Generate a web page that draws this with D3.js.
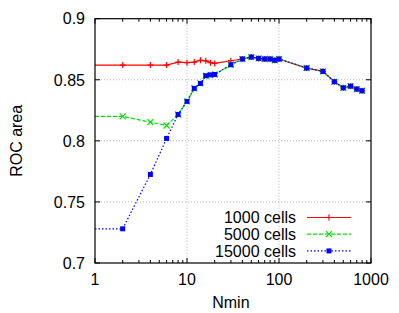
<!DOCTYPE html>
<html>
<head>
<meta charset="utf-8">
<script src="https://cdn.jsdelivr.net/npm/d3@7"></script>
<style>
	body { margin: 0; background: #fff; }
	text { font-family: "Liberation Sans", Arial, sans-serif; }
</style>
</head>
<body>
<script>
// values
const nmin = [1, 2, 4, 6, 8, 10, 12, 14, 16, 18, 20, 30, 40, 50, 60, 70, 80, 90, 100, 200, 300, 400, 500, 600, 700, 800];
const roc1000 = [0.862, 0.862, 0.862, 0.862, 0.8645, 0.864, 0.8645, 0.866, 0.8655, 0.864, 0.8634, 0.8656, 0.867,
	0.8686, 0.8675, 0.867, 0.867, 0.866, 0.867, 0.8596, 0.8569, 0.8484, 0.8434, 0.8448, 0.8424, 0.841];
const roc5000 = [0.82, 0.82, 0.8153, 0.8126, 0.8216, 0.8323, 0.843, 0.847, 0.8533, 0.854, 0.8543, 0.8623, 0.867,
	0.8686, 0.8675, 0.867, 0.867, 0.866, 0.867, 0.8596, 0.8569, 0.8484, 0.8434, 0.8448, 0.8424, 0.841];
const roc15000 = [0.728, 0.728, 0.7725, 0.802, 0.8216, 0.8323, 0.843, 0.847, 0.8533, 0.854, 0.8543, 0.8623, 0.867,
	0.8686, 0.8675, 0.867, 0.867, 0.866, 0.867, 0.8596, 0.8569, 0.8484, 0.8434, 0.8448, 0.8424, 0.841];
const seriesNames = ['1000 cells', '5000 cells', '15000 cells'];
const xTicks = [1, 10, 100, 1000];
const yTicks = [0.7, 0.75, 0.8, 0.85, 0.9];

const W = 399, H = 313;
const pLeft = 95, pRight = 371, pTop = 18.7, pBottom = 263;

const svg = d3.select('body').append('svg')
	.attr('width', W)
	.attr('height', H);

const x = d3.scaleLog().domain([1, 1000]).range([pLeft, pRight]);
const y = d3.scaleLinear().domain([0.7, 0.9]).range([pBottom, pTop]);

// grid
const grid = svg.append('g')
	.attr('stroke', '#a0a0a0')
	.attr('stroke-width', 0.8)
	.attr('stroke-dasharray', '1,2');
grid.selectAll('.gx')
	.data([10, 100])
	.join('line')
		.attr('x1', d => x(d)).attr('x2', d => x(d))
		.attr('y1', pTop).attr('y2', pBottom);
grid.selectAll('.gy')
	.data([0.75, 0.8, 0.85])
	.join('line')
		.attr('x1', pLeft).attr('x2', pRight)
		.attr('y1', d => y(d)).attr('y2', d => y(d));

// ticks on all four sides, pointing inward
const minor = [];
for (let p = 1; p < 1000; p *= 10)
	for (let k = 2; k < 10; k++) minor.push(p * k);

const ticks = svg.append('g').attr('stroke', '#000').attr('stroke-width', 1);
[pBottom, pTop].forEach(edge => {
	const dir = edge === pBottom ? -1 : 1;
	ticks.append('g').selectAll('line')
		.data(xTicks)
		.join('line')
			.attr('x1', d => x(d)).attr('x2', d => x(d))
			.attr('y1', edge).attr('y2', edge + dir * 5);
	ticks.append('g').selectAll('line')
		.data(minor)
		.join('line')
			.attr('x1', d => x(d)).attr('x2', d => x(d))
			.attr('y1', edge).attr('y2', edge + dir * 3);
});
[pLeft, pRight].forEach(edge => {
	const dir = edge === pLeft ? 1 : -1;
	ticks.append('g').selectAll('line')
		.data(yTicks)
		.join('line')
			.attr('x1', edge).attr('x2', edge + dir * 5)
			.attr('y1', d => y(d)).attr('y2', d => y(d));
});

// tick labels
svg.append('g').selectAll('text')
	.data(xTicks)
	.join('text')
		.attr('x', d => x(d))
		.attr('y', 285)
		.attr('text-anchor', 'middle')
		.attr('font-size', 16)
		.text(d => d);
svg.append('g').selectAll('text')
	.data(yTicks)
	.join('text')
		.attr('x', 85)
		.attr('y', d => y(d))
		.attr('dy', '0.36em')
		.attr('text-anchor', 'end')
		.attr('font-size', 16)
		.text(d => d3.format('')(d));

svg.append('text')
	.attr('x', x(30))
	.attr('y', 308)
	.attr('text-anchor', 'middle')
	.attr('font-size', 16)
	.text('Nmin');
svg.append('text')
	.attr('transform', `translate(22, ${(pTop + pBottom) / 2}) rotate(-90)`)
	.attr('text-anchor', 'middle')
	.attr('font-size', 16)
	.text('ROC area');

// series
const series = [
	{ name: seriesNames[0], vals: roc1000, color: '#ff0000', dash: null, mark: 'plus' },
	{ name: seriesNames[1], vals: roc5000, color: '#00e000', dash: '4,2', mark: 'cross' },
	{ name: seriesNames[2], vals: roc15000, color: '#0000ff', dash: '1.5,2', mark: 'square' }
];

function marker(g, kind, cx, cy, color) {
	if (kind === 'square') {
		g.append('rect')
			.attr('x', cx - 2.5).attr('y', cy - 2.5)
			.attr('width', 5).attr('height', 5)
			.attr('fill', color);
	} else {
		const s = 3;
		const p = kind === 'plus'
			? `M${cx - s},${cy}H${cx + s}M${cx},${cy - s}V${cy + s}`
			: `M${cx - s},${cy - s}L${cx + s},${cy + s}M${cx - s},${cy + s}L${cx + s},${cy - s}`;
		g.append('path').attr('d', p).attr('stroke', color).attr('stroke-width', 1.2).attr('fill', 'none');
	}
}

const line = d3.line()
	.x(d => x(d[0]))
	.y(d => y(d[1]));

series.forEach(s => {
	const pts = nmin.map((n, i) => [n, s.vals[i]]);
	const g = svg.append('g');
	g.append('path')
		.attr('d', line(pts))
		.attr('fill', 'none')
		.attr('stroke', s.color)
		.attr('stroke-width', 1.2)
		.attr('stroke-dasharray', s.dash);
	pts.slice(1).forEach(p => marker(g, s.mark, x(p[0]), y(p[1]), s.color));
});

// legend
const legend = svg.append('g');
series.forEach((s, i) => {
	const ly = 217.5 + i * 16.7;
	legend.append('text')
		.attr('x', 296)
		.attr('y', ly)
		.attr('dy', '0.36em')
		.attr('text-anchor', 'end')
		.attr('font-size', 16)
		.text(s.name);
	legend.append('line')
		.attr('x1', 307).attr('x2', 351)
		.attr('y1', ly).attr('y2', ly)
		.attr('stroke', s.color)
		.attr('stroke-width', 1.2)
		.attr('stroke-dasharray', s.dash);
	marker(legend, s.mark, 329, ly, s.color);
});

// frame
svg.append('rect')
	.attr('x', pLeft).attr('y', pTop)
	.attr('width', pRight - pLeft).attr('height', pBottom - pTop)
	.attr('fill', 'none')
	.attr('stroke', '#000')
	.attr('stroke-width', 1.2);
</script>
</body>
</html>
